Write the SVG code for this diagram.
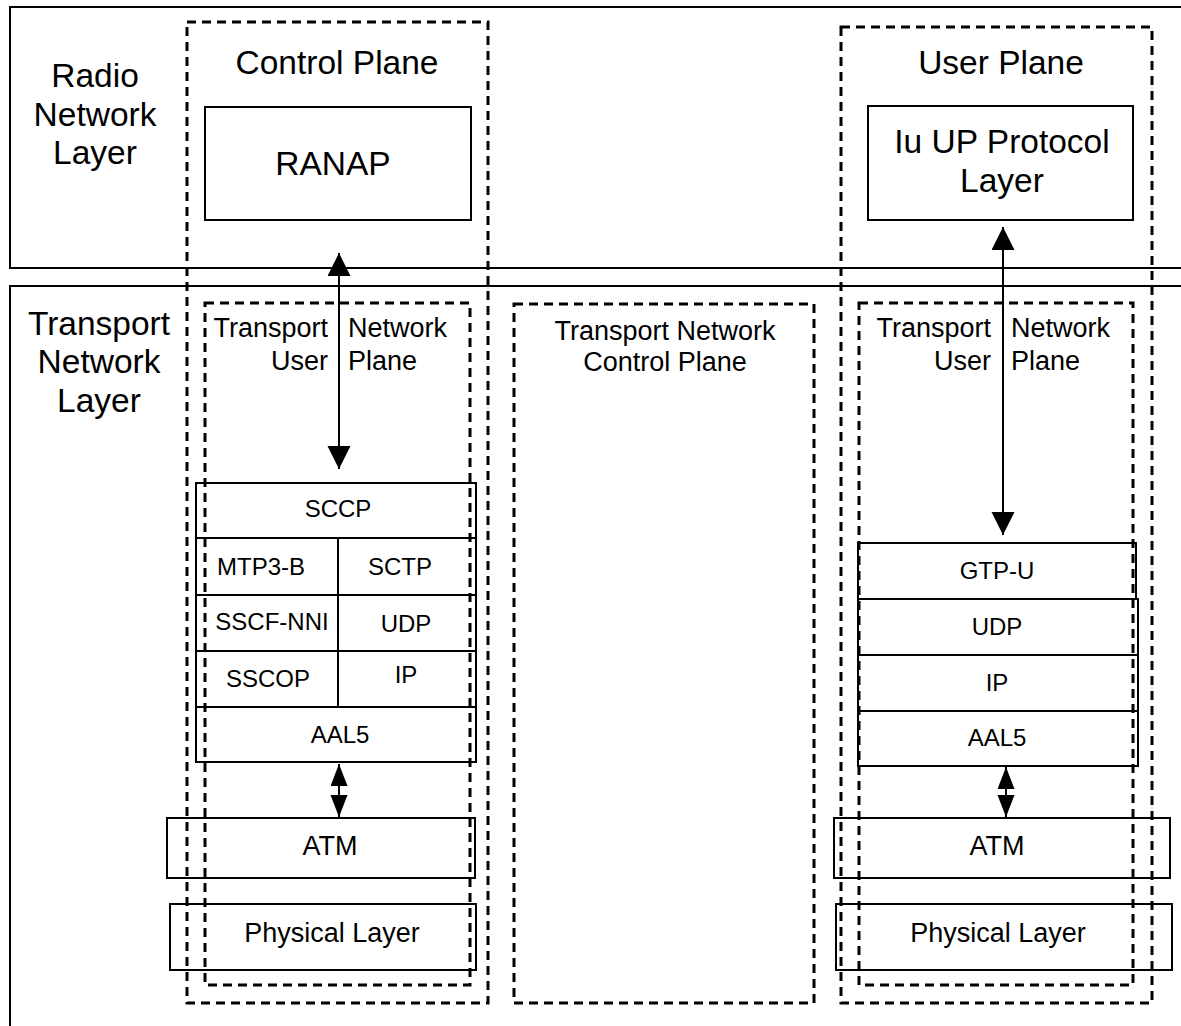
<svg xmlns="http://www.w3.org/2000/svg" width="1181" height="1026" viewBox="0 0 1181 1026">
<style>
.solid{fill:none;stroke:#000;stroke-width:2}
.dash{fill:none;stroke:#000;stroke-width:3;stroke-dasharray:9 6}
text{font-family:"Liberation Sans",Arial,sans-serif;fill:#000;text-anchor:middle}
.big{font-size:33.5px}
.mid{font-size:27px}
.sm{font-size:24px}
.conn{stroke:#000;stroke-width:2;fill:none}
</style>
<defs>
<marker id="ah" markerUnits="userSpaceOnUse" markerWidth="24" markerHeight="24" refX="23" refY="11.5" orient="auto-start-reverse"><path d="M0,0 L23,11.5 L0,23 z" fill="#000"/></marker>
<marker id="ahs" markerUnits="userSpaceOnUse" markerWidth="24" markerHeight="18" refX="22" refY="8.5" orient="auto-start-reverse"><path d="M0,0 L22,8.5 L0,17 z" fill="#000"/></marker>
</defs>
<rect width="1181" height="1026" fill="#fff"/>
<g id="radio-network-layer">
<rect class="solid" x="10" y="7" width="1200" height="261"/>
<text class="big" x="95" y="87">Radio</text>
<text class="big" x="95" y="126">Network</text>
<text class="big" x="95" y="164">Layer</text>
</g>
<g id="transport-network-layer">
<rect class="solid" x="10" y="286" width="1200" height="800"/>
<text class="big" x="99" y="335">Transport</text>
<text class="big" x="99" y="373">Network</text>
<text class="big" x="99" y="412">Layer</text>
</g>
<g id="control-plane">
<rect class="dash" x="187" y="22" width="301" height="981"/>
<text class="big" x="337" y="74">Control Plane</text>
</g>
<g id="ranap">
<rect class="solid" x="205" y="107" width="266" height="113"/>
<text class="big" x="333" y="175">RANAP</text>
</g>
<g id="user-plane">
<rect class="dash" x="841" y="27" width="311" height="976"/>
<text class="big" x="1001" y="74">User Plane</text>
</g>
<g id="iu-up">
<rect class="solid" x="868" y="106" width="265" height="114"/>
<text class="big" x="1002" y="153">Iu UP Protocol</text>
<text class="big" x="1002" y="192">Layer</text>
</g>
<g id="tnl-user-plane-left">
<rect class="dash" x="205" y="303" width="265" height="682"/>
<text class="mid" x="328" y="337" style="text-anchor:end">Transport</text>
<text class="mid" x="328" y="370" style="text-anchor:end">User</text>
<text class="mid" x="348" y="337" style="text-anchor:start">Network</text>
<text class="mid" x="348" y="370" style="text-anchor:start">Plane</text>
</g>
<g id="tn-control-plane">
<rect class="dash" x="514" y="304" width="300" height="699"/>
<text class="mid" x="665" y="340">Transport Network</text>
<text class="mid" x="665" y="371">Control Plane</text>
</g>
<g id="tnl-user-plane-right">
<rect class="dash" x="859" y="303" width="274" height="682"/>
<text class="mid" x="991" y="337" style="text-anchor:end">Transport</text>
<text class="mid" x="991" y="370" style="text-anchor:end">User</text>
<text class="mid" x="1011" y="337" style="text-anchor:start">Network</text>
<text class="mid" x="1011" y="370" style="text-anchor:start">Plane</text>
</g>
<g id="cp-stack">
<rect class="solid" x="196" y="483" width="280" height="55"/>
<text class="sm" x="338" y="517">SCCP</text>
<rect class="solid" x="196" y="538" width="142" height="57"/>
<text class="sm" x="261" y="575">MTP3-B</text>
<rect class="solid" x="338" y="538" width="138" height="57"/>
<text class="sm" x="400" y="575">SCTP</text>
<rect class="solid" x="196" y="595" width="142" height="56"/>
<text class="sm" x="272" y="630">SSCF-NNI</text>
<rect class="solid" x="338" y="595" width="138" height="56"/>
<text class="sm" x="406" y="632">UDP</text>
<rect class="solid" x="196" y="651" width="142" height="56"/>
<text class="sm" x="268" y="687">SSCOP</text>
<rect class="solid" x="338" y="651" width="138" height="56"/>
<text class="sm" x="406" y="683">IP</text>
<rect class="solid" x="196" y="707" width="280" height="55"/>
<text class="sm" x="340" y="743">AAL5</text>
</g>
<g id="up-stack">
<rect class="solid" x="858" y="543" width="278" height="56"/>
<text class="sm" x="997" y="579">GTP-U</text>
<rect class="solid" x="858" y="599" width="280" height="56"/>
<text class="sm" x="997" y="635">UDP</text>
<rect class="solid" x="858" y="655" width="280" height="56"/>
<text class="sm" x="997" y="691">IP</text>
<rect class="solid" x="858" y="711" width="280" height="55"/>
<text class="sm" x="997" y="746">AAL5</text>
</g>
<g id="atm-left">
<rect class="solid" x="167" y="818" width="308" height="60"/>
<text class="mid" x="330" y="855">ATM</text>
</g>
<g id="phy-left">
<rect class="solid" x="170" y="904" width="306" height="66"/>
<text class="mid" x="332" y="942">Physical Layer</text>
</g>
<g id="atm-right">
<rect class="solid" x="834" y="818" width="336" height="60"/>
<text class="mid" x="997" y="855">ATM</text>
</g>
<g id="phy-right">
<rect class="solid" x="836" y="904" width="336" height="66"/>
<text class="mid" x="998" y="942">Physical Layer</text>
</g>
<g id="connectors">
<line class="conn" x1="339" y1="253" x2="339" y2="469" marker-start="url(#ah)" marker-end="url(#ah)"/>
<line class="conn" x1="1003" y1="227" x2="1003" y2="535" marker-start="url(#ah)" marker-end="url(#ah)"/>
<line class="conn" x1="339" y1="764" x2="339" y2="817" marker-start="url(#ahs)" marker-end="url(#ahs)"/>
<line class="conn" x1="1006" y1="767" x2="1006" y2="817" marker-start="url(#ahs)" marker-end="url(#ahs)"/>
</g>
</svg>
